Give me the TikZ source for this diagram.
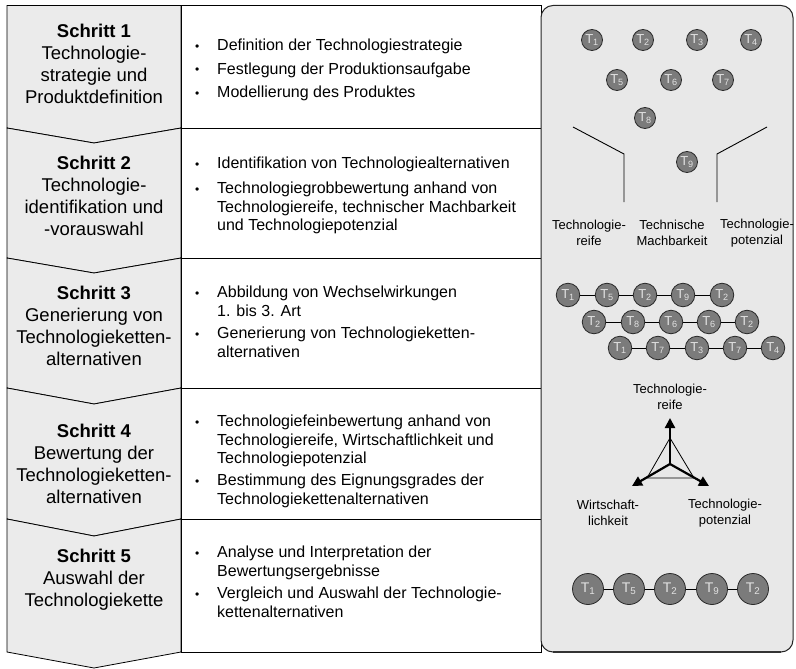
\documentclass[tikz,border=0pt]{standalone}
\usepackage{fontspec}
\setmainfont{Liberation Sans}
\usetikzlibrary{arrows.meta}
\definecolor{panelgray}{HTML}{E8E8E8}
\definecolor{stepgray}{HTML}{EBEBEB}
\definecolor{tgray}{HTML}{7B7B7B}
\definecolor{tlabel}{HTML}{E2E2E2}
\definecolor{tborder}{HTML}{2A2A2A}
\tikzset{
  stepbox/.style={draw=black, fill=stepgray, line width=0.8pt, line join=miter},
  steptext/.style={font=\fontsize{18.5}{22}\selectfont, align=center, inner sep=0pt},
  bul/.style={font=\fontsize{12}{14}\selectfont, anchor=base west, inner sep=0pt},
  itemtext/.style={font=\fontsize{16}{18.5}\selectfont, anchor=north west, align=left, inner sep=0pt},
  celltext/.style={font=\fontsize{13}{15.5}\selectfont, align=center, inner sep=0pt},
  tbase/.style={circle, draw=tborder, fill=tgray, text=tlabel, inner sep=0pt, line width=0.8pt, font=\fontsize{13}{13}\selectfont},
  tsmall/.style={tbase, minimum size=21pt},
  tchain/.style={tbase, minimum size=23.5pt},
  tbig/.style={tbase, minimum size=31pt, font=\fontsize{14}{14}\selectfont},
  thin/.style={line width=0.8pt},
  axis/.style={line width=2.2pt, -{Triangle[length=10pt,width=10pt]}}
}
\begin{document}
\begin{tikzpicture}[x=1pt,y=-1pt]
\useasboundingbox (0,0) rectangle (796,669);

% left column: chevron steps
\draw[stepbox] (7,5.5) -- (181,5.5) -- (181,128) -- (94,143) -- (7,128) -- cycle;
\draw[stepbox] (7,128) -- (94,143) -- (181,128) -- (181,258) -- (94,273) -- (7,258) -- cycle;
\draw[stepbox] (7,258) -- (94,273) -- (181,258) -- (181,388) -- (94,404) -- (7,388) -- cycle;
\draw[stepbox] (7,388) -- (94,404) -- (181,388) -- (181,519) -- (94,536) -- (7,519) -- cycle;
\draw[stepbox] (7,519) -- (94,536) -- (181,519) -- (181,652) -- (94,668) -- (7,652) -- cycle;

\node[steptext] (s1) at (94,64) {\textbf{Schritt 1}\\Technologie-\\strategie und\\Produktdefinition};
\node[steptext] (s2) at (94,196) {\textbf{Schritt 2}\\Technologie-\\identifikation und\\-vorauswahl};
\node[steptext] (s3) at (94,326) {\textbf{Schritt 3}\\Generierung von\\Technologieketten-\\alternativen};
\node[steptext] (s4) at (94,464) {\textbf{Schritt 4}\\Bewertung der\\Technologieketten-\\alternativen};
\node[steptext] (s5) at (94,580) {\textbf{Schritt 5}\\Auswahl der\\Technologiekette};

% middle column
\draw[thin, fill=white] (181,5.5) rectangle (541,652);
\foreach \yy in {128,258,388,519} \draw[thin] (181,\yy) -- (541,\yy);

% row 1
\node[bul] (b11) at (195,50.5) {•};
\node[itemtext] (i11) at (217,38.8) {Definition der Technologiestrategie};
\node[bul] (b12) at (195,74) {•};
\node[itemtext] (i12) at (217,62.3) {Festlegung der Produktionsaufgabe};
\node[bul] (b13) at (195,97.5) {•};
\node[itemtext] (i13) at (217,85.8) {Modellierung des Produktes};
% row 2
\node[bul] (b21) at (195,168.5) {•};
\node[itemtext] (i21) at (217,156.8) {Identifikation von Technologiealternativen};
\node[bul] (b22) at (195,193.5) {•};
\node[itemtext] (i22) at (217,181.8) {Technologiegrobbewertung anhand von\\Technologiereife, technischer Machbarkeit\\und Technologiepotenzial};
% row 3
\node[bul] (b31) at (195,297.5) {•};
\node[itemtext] (i31) at (217,285.8) {Abbildung von Wechselwirkungen\\1. bis 3. Art};
\node[bul] (b32) at (195,338.5) {•};
\node[itemtext] (i32) at (217,326.8) {Generierung von Technologieketten-\\alternativen};
% row 4
\node[bul] (b41) at (195,426.5) {•};
\node[itemtext] (i41) at (217,414.8) {Technologiefeinbewertung anhand von\\Technologiereife, Wirtschaftlichkeit und\\Technologiepotenzial};
\node[bul] (b42) at (195,485.5) {•};
\node[itemtext] (i42) at (217,473.8) {Bestimmung des Eignungsgrades der\\Technologiekettenalternativen};
% row 5
\node[bul] (b51) at (195,557.5) {•};
\node[itemtext] (i51) at (217,545.8) {Analyse und Interpretation der\\Bewertungsergebnisse};
\node[bul] (b52) at (195,598.5) {•};
\node[itemtext] (i52) at (217,586.8) {Vergleich und Auswahl der Technologie-\\kettenalternativen};

% right panel
\draw[line width=1pt, draw=black!85, fill=panelgray, rounded corners=12pt] (541,5.5) rectangle (793,652);
\draw[line width=2pt, draw=black!80] (553,652) -- (781,652);

% funnel
\node[tsmall] (f1) at (592,40) {T\textsubscript{1}};
\node[tsmall] (f2) at (643,40) {T\textsubscript{2}};
\node[tsmall] (f3) at (697,40) {T\textsubscript{3}};
\node[tsmall] (f4) at (751,40) {T\textsubscript{4}};
\node[tsmall] (f5) at (617,80) {T\textsubscript{5}};
\node[tsmall] (f6) at (671,80) {T\textsubscript{6}};
\node[tsmall] (f7) at (723,80) {T\textsubscript{7}};
\node[tsmall] (f8) at (645,118) {T\textsubscript{8}};
\node[tsmall] (f9) at (687,162) {T\textsubscript{9}};

\coordinate (fl1) at (573,127);
\coordinate (fl2) at (624,154);
\coordinate (fl3) at (624,202);
\coordinate (fr1) at (767,127);
\coordinate (fr2) at (717,154);
\coordinate (fr3) at (717,202);
\draw[line width=0.9pt] (fl1) -- (fl2) -- (fl3);
\draw[line width=0.9pt] (fr1) -- (fr2) -- (fr3);

\node[celltext] (k1) at (589,233) {Technologie-\\reife};
\node[celltext] (k2) at (672,233) {Technische\\Machbarkeit};
\node[celltext] (k3) at (757,233) {Technologie-\\potenzial};

% chains
\node[tchain] (a1) at (568,295) {T\textsubscript{1}};
\node[tchain] (a2) at (607,295) {T\textsubscript{5}};
\node[tchain] (a3) at (645,295) {T\textsubscript{2}};
\node[tchain] (a4) at (683,295) {T\textsubscript{9}};
\node[tchain] (a5) at (722,295) {T\textsubscript{2}};
\draw[thin] (a1) -- (a2) (a2) -- (a3) (a3) -- (a4) (a4) -- (a5);

\node[tchain] (c1) at (594,322) {T\textsubscript{2}};
\node[tchain] (c2) at (633,322) {T\textsubscript{8}};
\node[tchain] (c3) at (671,322) {T\textsubscript{6}};
\node[tchain] (c4) at (709,322) {T\textsubscript{6}};
\node[tchain] (c5) at (747,322) {T\textsubscript{2}};
\draw[thin] (c1) -- (c2) (c2) -- (c3) (c3) -- (c4) (c4) -- (c5);

\node[tchain] (d1) at (620,348) {T\textsubscript{1}};
\node[tchain] (d2) at (658,348) {T\textsubscript{7}};
\node[tchain] (d3) at (697,348) {T\textsubscript{3}};
\node[tchain] (d4) at (735,348) {T\textsubscript{7}};
\node[tchain] (d5) at (773,348) {T\textsubscript{4}};
\draw[thin] (d1) -- (d2) (d2) -- (d3) (d3) -- (d4) (d4) -- (d5);

% evaluation triangle
\coordinate (tc) at (670,464);
\coordinate (tu) at (670,418);
\coordinate (tl) at (632,486);
\coordinate (tr) at (709,486);
\coordinate (v1) at (670,438);
\coordinate (v2) at (647,478);
\coordinate (v3) at (694,478);
\draw[thin] (v1) -- (v2) -- (v3) -- cycle;
\draw[axis] (tc) -- (tu);
\draw[axis] (tc) -- (tl);
\draw[axis] (tc) -- (tr);
\node[celltext] (e1) at (670,397) {Technologie-\\reife};
\node[celltext] (e2) at (608,513) {Wirtschaft-\\lichkeit};
\node[celltext] (e3) at (725,513) {Technologie-\\potenzial};

% selected chain
\node[tbig] (g1) at (588,589) {T\textsubscript{1}};
\node[tbig] (g2) at (629,589) {T\textsubscript{5}};
\node[tbig] (g3) at (670,589) {T\textsubscript{2}};
\node[tbig] (g4) at (712,589) {T\textsubscript{9}};
\node[tbig] (g5) at (753,589) {T\textsubscript{2}};
\draw[thin] (g1) -- (g2) (g2) -- (g3) (g3) -- (g4) (g4) -- (g5);
\end{tikzpicture}
\end{document}
